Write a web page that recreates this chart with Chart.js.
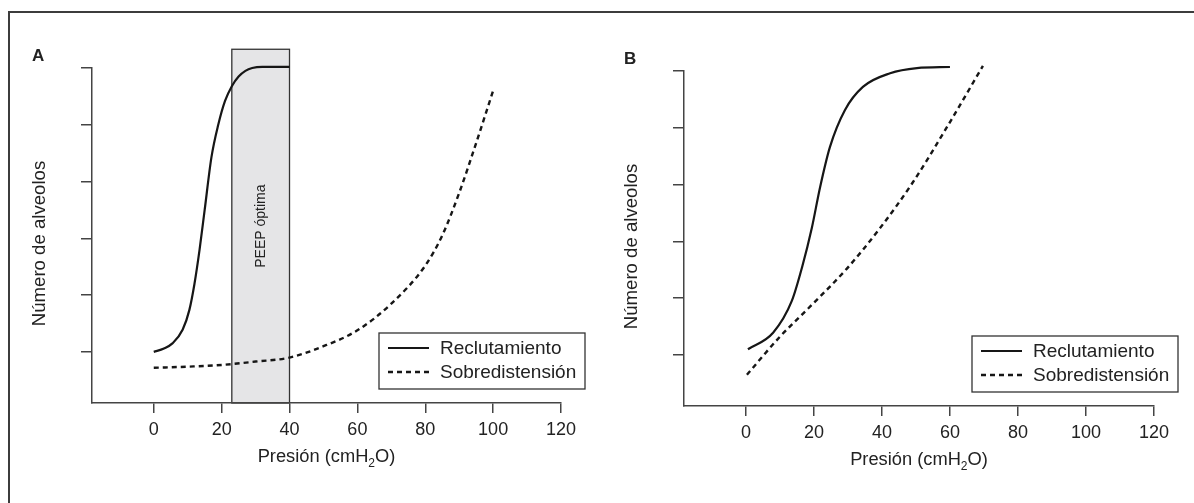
<!DOCTYPE html>
<html>
<head>
<meta charset="utf-8">
<script src="https://cdn.jsdelivr.net/npm/chart.js@4.4.1/dist/chart.umd.min.js"></script>
<style>
  body { margin: 0; background: #fff; }
  #page { position: relative; width: 1194px; height: 503px; overflow: hidden; background: #fff; }
  #frame { position: absolute; left: 8px; top: 11px; width: 1300px; height: 600px;
           border-left: 2px solid #3c3c3c; border-top: 2px solid #3c3c3c; }
  .panel { position: absolute; top: 0; width: 597px; height: 503px; }
</style>
</head>
<body>
<div id="page">
  <div id="frame"></div>
  <div class="panel" style="left:0"><canvas id="chartA"></canvas></div>
  <div class="panel" style="left:597px"><canvas id="chartB"></canvas></div>
</div>
<script>
const seriesNames = ['Reclutamiento', 'Sobredistensión'];
const xTitleParts = ['Presión (cmH', '2', 'O)'];
const yTitle = 'Número de alveolos';
const xRange = [-18.2, 120];
const yRange = [-0.9, 5];

// Panel A
const recruitPressureA = [0, 3, 5.5, 8.5, 10.5, 12, 13.5, 15, 17, 19, 21, 23, 25, 27, 29, 32, 40];
const recruitAlveoliA  = [0, 0.06, 0.15, 0.39, 0.74, 1.2, 1.8, 2.5, 3.43, 4.0, 4.42, 4.68, 4.85, 4.95, 5.0, 5.02, 5.02];
const overPressureA = [0, 10, 20, 30, 40, 50, 60, 70, 80, 85, 90, 95, 100];
const overAlveoliA  = [-0.28, -0.26, -0.23, -0.17, -0.1, 0.1, 0.38, 0.85, 1.52, 2.05, 2.8, 3.68, 4.6];
const peepBox = [23, 40, 5.33];
const peepLabel = 'PEEP óptima';

// Panel B
const recruitPressureB = [0.6, 8, 13.5, 16.5, 19.4, 21.8, 24.7, 29.1, 34.4, 42.4, 50.3, 60];
const recruitAlveoliB  = [0.1, 0.39, 0.95, 1.54, 2.24, 2.95, 3.66, 4.31, 4.72, 4.96, 5.05, 5.07];
const overPressureB = [0.3, 10, 19.7, 29.7, 39.4, 49.1, 59.1, 69.7];
const overAlveoliB  = [-0.35, 0.32, 0.9, 1.52, 2.23, 3.04, 4.01, 5.09];

const FONT = "'Liberation Sans', Arial, sans-serif";
const INK = '#161616';
const AXIS = '#444';
Chart.defaults.font.family = FONT;

const toPoints = (xs, ys) => xs.map((x, i) => ({x: x, y: ys[i]}));

// box, letters, titles and the framed legend
const decor = {
  id: 'decor',
  beforeDraw(chart, args, opts) {
    if (!opts.peep) return;
    const {ctx, scales: {x, y}} = chart;
    const l = x.getPixelForValue(opts.peep[0]);
    const r = x.getPixelForValue(opts.peep[1]);
    const t = y.getPixelForValue(opts.peep[2]);
    const b = y.bottom;
    ctx.save();
    ctx.fillStyle = '#e5e5e7';
    ctx.fillRect(l, t, r - l, b - t);
    ctx.strokeStyle = '#333';
    ctx.lineWidth = 1.3;
    ctx.strokeRect(l, t, r - l, b - t);
    ctx.translate((l + r) / 2, (t + b) / 2);
    ctx.rotate(-Math.PI / 2);
    ctx.font = '14px ' + FONT;
    ctx.fillStyle = '#222';
    ctx.textAlign = 'center';
    ctx.textBaseline = 'middle';
    ctx.fillText(peepLabel, 0, 0);
    ctx.restore();
  },
  afterDraw(chart, args, opts) {
    const {ctx, chartArea: a} = chart;
    ctx.save();
    ctx.fillStyle = '#222';

    // panel letter
    ctx.font = 'bold 17px ' + FONT;
    ctx.textAlign = 'left';
    ctx.textBaseline = 'alphabetic';
    ctx.fillText(opts.letter, a.left - 60, a.top - 7);

    // y title
    ctx.save();
    ctx.translate(a.left - 52, (a.top + a.bottom) / 2 + 8);
    ctx.rotate(-Math.PI / 2);
    ctx.font = '18.6px ' + FONT;
    ctx.textAlign = 'center';
    ctx.textBaseline = 'middle';
    ctx.fillText(yTitle, 0, 0);
    ctx.restore();

    // x title with subscript
    const big = '18.3px ' + FONT, small = '12px ' + FONT;
    ctx.font = big;
    const w0 = ctx.measureText(xTitleParts[0]).width;
    const w2 = ctx.measureText(xTitleParts[2]).width;
    ctx.font = small;
    const w1 = ctx.measureText(xTitleParts[1]).width;
    let tx = (a.left + a.right) / 2 - (w0 + w1 + w2) / 2;
    const ty = a.bottom + 59;
    ctx.font = big;
    ctx.fillText(xTitleParts[0], tx, ty);
    tx += w0;
    ctx.font = small;
    ctx.fillText(xTitleParts[1], tx, ty + 5);
    tx += w1;
    ctx.font = big;
    ctx.fillText(xTitleParts[2], tx, ty);

    // legend
    const lw = 206, lh = 56;
    const lx = a.right + 24 - lw, ly = a.bottom - 14 - lh;
    ctx.strokeStyle = '#333';
    ctx.lineWidth = 1.3;
    ctx.strokeRect(lx, ly, lw, lh);
    chart.data.datasets.forEach((ds, i) => {
      const cy = ly + 15 + i * 24;
      ctx.beginPath();
      ctx.setLineDash(ds.borderDash || []);
      ctx.lineWidth = ds.borderWidth;
      ctx.strokeStyle = ds.borderColor;
      ctx.moveTo(lx + 9, cy);
      ctx.lineTo(lx + 50, cy);
      ctx.stroke();
      ctx.setLineDash([]);
      ctx.font = '19px ' + FONT;
      ctx.textBaseline = 'middle';
      ctx.fillText(ds.label, lx + 61, cy + 1);
    });
    ctx.restore();
  }
};

function makeChart(id, recX, recY, overX, overY, panel) {
  return new Chart(document.getElementById(id), {
    type: 'line',
    data: {
      datasets: [
        { label: seriesNames[0], data: toPoints(recX, recY), borderColor: INK, borderWidth: 2.2,
          pointRadius: 0, cubicInterpolationMode: 'monotone', clip: false },
        { label: seriesNames[1], data: toPoints(overX, overY), borderColor: INK, borderWidth: 2.4,
          borderDash: [5, 4], pointRadius: 0, cubicInterpolationMode: 'monotone', clip: false }
      ]
    },
    options: {
      responsive: true,
      maintainAspectRatio: false,
      animation: false,
      layout: { padding: { top: panel.top, right: panel.right, left: 0, bottom: 0 } },
      plugins: {
        legend: { display: false },
        tooltip: { enabled: false },
        decor: { letter: panel.letter, peep: panel.peep }
      },
      scales: {
        x: {
          type: 'linear', min: xRange[0], max: xRange[1],
          afterFit: s => { s.height = panel.xHeight; },
          border: { color: AXIS, width: 1.5 },
          grid: { drawOnChartArea: false, tickLength: 10, color: AXIS, lineWidth: 1.5 },
          ticks: { stepSize: 20, includeBounds: false, color: '#222', font: { size: 18 }, padding: 6, maxRotation: 0 }
        },
        y: {
          type: 'linear', min: yRange[0], max: yRange[1],
          afterFit: s => { s.width = panel.yWidth; },
          border: { color: AXIS, width: 1.5 },
          grid: { drawOnChartArea: false, tickLength: 11, color: AXIS, lineWidth: 1.5 },
          ticks: { display: false, stepSize: 1, includeBounds: false }
        }
      }
    },
    plugins: [decor]
  });
}

makeChart('chartA', recruitPressureA, recruitAlveoliA, overPressureA, overAlveoliA,
  { letter: 'A', peep: peepBox, top: 68, right: 36, yWidth: 92, xHeight: 100 });
makeChart('chartB', recruitPressureB, recruitAlveoliB, overPressureB, overAlveoliB,
  { letter: 'B', peep: null, top: 71, right: 40, yWidth: 87, xHeight: 97 });
</script>
</body>
</html>
